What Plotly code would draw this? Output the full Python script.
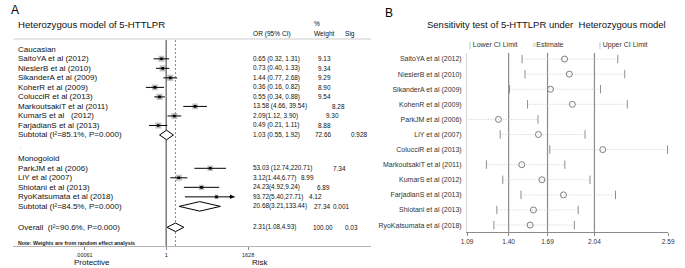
import math
import plotly.graph_objects as go

W, H = 685, 268
FONT = "Liberation Sans, Arial, Helvetica, sans-serif"

# ---------------- Panel A data (forest plot) ----------------
cau_labels = ["SaitoYA et al (2012)", "NieslerB et al (2010)", "SikanderA et al (2009)",
              "KoherR et al (2009)", "ColucciR et al (2013)", "MarkoutsakiT et al (2011)",
              "KumarS et al \u00a0 (2012)", "FarjadianS et al (2013)"]
cau_or = [0.65, 0.73, 1.44, 0.36, 0.55, 13.58, 2.09, 0.49]
cau_lo = [0.32, 0.40, 0.77, 0.16, 0.34, 4.66, 1.12, 0.21]
cau_hi = [1.31, 1.33, 2.68, 0.82, 0.88, 39.54, 3.90, 1.11]
cau_w = [9.13, 9.34, 9.29, 8.90, 9.54, 8.28, 9.30, 8.88]
cau_txt = ["0.65 (0.32, 1.31)", "0.73 (0.40, 1.33)", "1.44 (0.77, 2.68)", "0.36 (0.16, 0.82)",
           "0.55 (0.34, 0.88)", "13.58 (4.66, 39.54)", "2.09(1.12, 3.90)", "0.49 (0.21, 1.11)"]
cau_sub = [1.03, 0.55, 1.92]
cau_sub_label = "Subtotal (I\u00b2=85.1%, P=0.000)"
cau_sub_txt, cau_sub_w, cau_sub_sig = "1.03 (0.55, 1.92)", "72.66", "0.928"

mon_labels = ["ParkJM et al (2006)", "LiY et al (2007)", "Shiotani et al (2013)",
              "RyoKatsumata et al (2018)"]
mon_or = [53.03, 3.12, 24.23, 93.72]
mon_lo = [12.74, 1.44, 4.92, 5.40]
mon_hi = [220.71, 6.77, 119.2, 480.0]      # drawn extents
mon_arrow = [False, False, False, True]
mon_w = [7.34, 8.99, 6.89, 4.12]
mon_txt = ["53.03 (12.74,220.71)", "3.12(1.44,6.77)", "24.23(4.92,9.24)", "93.72(5.40,27.71)"]
mon_sub = [20.68, 3.21, 133.44]
mon_sub_label = "Subtotal (I\u00b2=84.5%, P=0.000)"
mon_sub_txt, mon_sub_w, mon_sub_sig = "20.68(3.21,133.44)", "27.34", "0.001"

overall = [2.31, 1.08, 4.93]
overall_label = "Overall \u00a0(I\u00b2=90.6%, P=0.000)"
overall_txt, overall_w, overall_sig = "2.31(1.08,4.93)", "100.00", "0.03"

a_tickvals = [0.00061, 1, 1628]
a_ticktext = [".00061", "1", "1628"]

# ---------------- Panel B data (sensitivity) ----------------
b_labels = ["SaitoYA et al (2012)", "NieslerB et al (2010)", "SikanderA et al (2009)",
            "KohenR et al (2009)", "ParkJM et al (2006)", "LiY et al (2007)",
            "ColucciR et al (2013)", "MarkoutsakiT et al (2011)", "KumarS et al (2012)",
            "FarjadianS et al (2013)", "Shiotani et al (2013)", "RyoKatsumata et al (2018)"]
b_est = [1.817, 1.853, 1.712, 1.875, 1.324, 1.622, 2.102, 1.498, 1.648, 1.809, 1.585, 1.560]
b_lo = [1.500, 1.522, 1.407, 1.541, 1.080, 1.337, 1.707, 1.234, 1.356, 1.492, 1.312, 1.290]
b_hi = [2.214, 2.266, 2.085, 2.285, 1.619, 1.970, 2.585, 1.819, 2.007, 2.197, 1.919, 1.890]
b_ticks = [1.09, 1.40, 1.69, 2.04, 2.59]
b_reflines = [1.40, 1.69, 2.04]

# ---------------- layout helpers ----------------
def fx(p):
    return p / W

def fy(p):
    return 1 - p / H

A_ONE_PX, A_PX_PER_DEC = 163.3, 26.0
A_X0, A_X1 = 7, 372
A_ROW0_PX, A_ROW_PX = 49.3, 9.52
A_BOTTOM_PX = 246
xA_range = [(A_X0 - A_ONE_PX) / A_PX_PER_DEC, (A_X1 - A_ONE_PX) / A_PX_PER_DEC]
yA_range = [(A_BOTTOM_PX - A_ROW0_PX) / A_ROW_PX, -A_ROW0_PX / A_ROW_PX]

# row positions (row units)
pos_cau_head = 0.0
pos_cau = [pos_cau_head + 1 + i for i in range(len(cau_labels))]
pos_cau_sub = pos_cau[-1] + 1
pos_dot = pos_cau_sub + 1.2
pos_mon_head = pos_cau_sub + 2.5
pos_mon = [pos_mon_head + 1 + i for i in range(len(mon_labels))]
pos_mon_sub = pos_mon[-1] + 1
pos_overall = pos_mon_sub + 2.2
pos_note = pos_overall + 1.65

# text column layout (px)
NUM_SIZE = 6.4
cau_wcol = [316, 316, 316, 316, 316, 330, 324, 316]
mon_wcol = [331, 299, 315, 307]
sub_wcol = [313, 312, 311]
sub_scol = [350, 331, 344]

fig = go.Figure()

# reference lines A
top_ref = (40 - A_ROW0_PX) / A_ROW_PX
fig.add_trace(go.Scatter(x=[1, 1], y=[top_ref, yA_range[0]], mode="lines",
                         line=dict(color="#7a7a7a", width=1.5), xaxis="x", yaxis="y",
                         hoverinfo="skip", showlegend=False))
fig.add_trace(go.Scatter(x=[overall[0], overall[0]], y=[top_ref, yA_range[0]], mode="lines",
                         line=dict(color="#8a8a8a", width=1, dash="2px,2px"), xaxis="x", yaxis="y",
                         hoverinfo="skip", showlegend=False))

s_or = cau_or + mon_or
s_lo = cau_lo + mon_lo
s_hi = cau_hi + mon_hi
s_w = cau_w + mon_w
s_pos = pos_cau + pos_mon

# weight boxes
fig.add_trace(go.Scatter(x=s_or, y=s_pos, mode="markers",
                         marker=dict(symbol="square", size=[2.0 * math.sqrt(w) for w in s_w],
                                     color="#a8a8a8", line=dict(width=0)),
                         xaxis="x", yaxis="y", hoverinfo="skip", showlegend=False))
# CI lines
cx, cy = [], []
for lo, hi, p in zip(s_lo, s_hi, s_pos):
    cx += [lo, hi, None]
    cy += [p, p, None]
fig.add_trace(go.Scatter(x=cx, y=cy, mode="lines", line=dict(color="black", width=1),
                         xaxis="x", yaxis="y", hoverinfo="skip", showlegend=False))
# point estimates
fig.add_trace(go.Scatter(x=s_or, y=s_pos, mode="markers",
                         marker=dict(symbol="square", size=2.6, color="black"),
                         xaxis="x", yaxis="y", hoverinfo="skip", showlegend=False))

# diamonds
for (est, lo, hi), p, hh in [(cau_sub, pos_cau_sub, 0.5), (mon_sub, pos_mon_sub, 0.5),
                             (overall, pos_overall, 0.45)]:
    fig.add_trace(go.Scatter(x=[lo, est, hi, est, lo], y=[p, p - hh, p, p + hh, p],
                             mode="lines", fill="toself", fillcolor="white",
                             line=dict(color="black", width=1), xaxis="x", yaxis="y",
                             hoverinfo="skip", showlegend=False))

ann = []

def at(xpx, yval, text, size, color="#111", xanchor="left", yref="y"):
    ann.append(dict(x=fx(xpx), y=yval, xref="paper", yref=yref, text=text, showarrow=False,
                    xanchor=xanchor, yanchor="middle",
                    font=dict(size=size, color=color, family=FONT)))

# arrows for truncated CIs
for hi, p, arr in zip(mon_hi, pos_mon, mon_arrow):
    if arr:
        ann.append(dict(x=math.log10(hi), y=p, xref="x", yref="y", text="", showarrow=True,
                        ax=-7, ay=0, arrowhead=2, arrowsize=0.9, arrowwidth=1,
                        arrowcolor="black"))

# row labels A
at(10, pos_cau_head, "Caucasian", 8)
for lab, p in zip(cau_labels, pos_cau):
    at(10, p, lab, 8)
at(10, pos_cau_sub, cau_sub_label, 8)
at(12, pos_dot, ".", 6, color="#666")
at(10, pos_mon_head, "Monogoloid", 8)
for lab, p in zip(mon_labels, pos_mon):
    at(10, p, lab, 8)
at(10, pos_mon_sub, mon_sub_label, 8)
at(10, pos_overall, overall_label, 8)
at(10, pos_note, "<b>Note: Weights are from random effect analysis</b>", 5.3, color="#222")

# numeric columns A
for t, w, p, c in zip(cau_txt, cau_w, pos_cau, cau_wcol):
    at(250, p, t, NUM_SIZE)
    at(c, p, f"{w:.2f}", NUM_SIZE)
for t, w, p, c in zip(mon_txt, mon_w, pos_mon, mon_wcol):
    at(250, p, t, NUM_SIZE)
    at(c, p, f"{w:.2f}", NUM_SIZE)
for t, w, s, p, c1, c2 in zip([cau_sub_txt, mon_sub_txt, overall_txt],
                              [cau_sub_w, mon_sub_w, overall_w],
                              [cau_sub_sig, mon_sub_sig, overall_sig],
                              [pos_cau_sub, pos_mon_sub, pos_overall], sub_wcol, sub_scol):
    at(250, p, t, NUM_SIZE)
    at(c1, p, w, NUM_SIZE)
    at(c2, p, s, NUM_SIZE)

# headers A
at(3, fy(10), "A", 12, yref="paper", color="#000")
at(10, fy(25), "Heterozygous model of 5-HTTLPR", 9.6, yref="paper")
at(250, fy(33.5), "OR (95% CI)", 6.6, yref="paper")
at(312, fy(23.5), "%", 6.6, yref="paper")
at(312, fy(33.5), "Weight", 6.6, yref="paper")
at(344, fy(33.5), "Sig", 6.6, yref="paper")
at(88, fy(262), "Protective", 8, yref="paper", xanchor="center")
at(259.7, fy(262), "Risk", 8, yref="paper", xanchor="center")

shapes = [dict(type="line", xref="paper", yref="paper", x0=fx(8), x1=fx(372),
               y0=fy(39), y1=fy(39), line=dict(color="#cccccc", width=1))]

# ---------------- Panel B ----------------
for v in b_reflines:
    shapes.append(dict(type="line", xref="x2", yref="y2 domain", x0=v, x1=v, y0=0, y1=1,
                       line=dict(color="#8c8c8c", width=1.2), layer="below"))

lx, ly = [], []
for lo, hi, lab in zip(b_lo, b_hi, b_labels):
    lx += [lo, hi, None]
    ly += [lab, lab, None]
fig.add_trace(go.Scatter(x=lx, y=ly, mode="lines",
                         line=dict(color="#c4c4c4", width=0.8, dash="1px,1.5px"),
                         xaxis="x2", yaxis="y2", hoverinfo="skip", showlegend=False))
fig.add_trace(go.Scatter(x=b_lo + b_hi, y=b_labels + b_labels, mode="markers",
                         marker=dict(symbol="line-ns", size=6, line=dict(color="#8e8e8e", width=1)),
                         xaxis="x2", yaxis="y2", hoverinfo="skip", showlegend=False))
fig.add_trace(go.Scatter(x=b_est, y=b_labels, mode="markers",
                         marker=dict(symbol="circle-open", size=6, color="#7e7e7e",
                                     line=dict(width=1)),
                         xaxis="x2", yaxis="y2", hoverinfo="skip", showlegend=False))

at(384, fy(13), "B", 12, yref="paper", color="#000")
at(551, fy(25), "Sensitivity test of 5-HTTLPR under \u00a0Heterozygous model", 9.5,
   yref="paper", xanchor="center")
at(470, fy(45), "<span style='color:#999'>|</span> Lower CI Limit", 7, yref="paper", color="#333")
at(534, fy(45), "<span style='color:#777'>\u25cb</span>Estimate", 7, yref="paper", color="#333")
at(602, fy(45), "<span style='color:#999'>|</span> Upper CI Limit", 7, yref="paper", color="#333")

fig.update_layout(
    width=W, height=H, margin=dict(l=0, r=0, t=0, b=0),
    paper_bgcolor="white", plot_bgcolor="white",
    font=dict(family=FONT, color="#111"),
    showlegend=False,
    xaxis=dict(type="log", range=xA_range, domain=[fx(A_X0), fx(A_X1)], anchor="y",
               showline=True, linecolor="#b5b5b5", linewidth=1.3, ticks="outside",
               ticklen=3, tickcolor="#888", tickvals=a_tickvals, ticktext=a_ticktext,
               tickfont=dict(size=5.5, color="#222"), showgrid=False, zeroline=False),
    yaxis=dict(range=yA_range, domain=[fy(A_BOTTOM_PX), 1], anchor="x", visible=False),
    xaxis2=dict(range=[b_ticks[0], b_ticks[-1]], domain=[fx(470), fx(675)], anchor="y2",
                showline=True, linecolor="#8a8a8a", linewidth=1, ticks="outside", ticklen=3,
                tickcolor="#8a8a8a", tickvals=b_ticks, ticktext=[f"{t:.2f}" for t in b_ticks],
                tickfont=dict(size=6.5, color="#333"), showgrid=False, zeroline=False),
    yaxis2=dict(type="category", categoryorder="array", categoryarray=b_labels,
                range=[11.44, -0.4], domain=[fy(231.7), fy(53)], anchor="x2",
                showline=True, linecolor="#d5d5d5", linewidth=1, ticks="",
                tickfont=dict(size=7, color="#333"), showgrid=False, zeroline=False,
                ticklabelstandoff=3),
    annotations=ann, shapes=shapes,
)

# remove the browser's default page margin so the 685x268 figure fills the window
fig.write_html("out.html", config={"displayModeBar": False},
               post_script="document.body.style.margin='0px';")
